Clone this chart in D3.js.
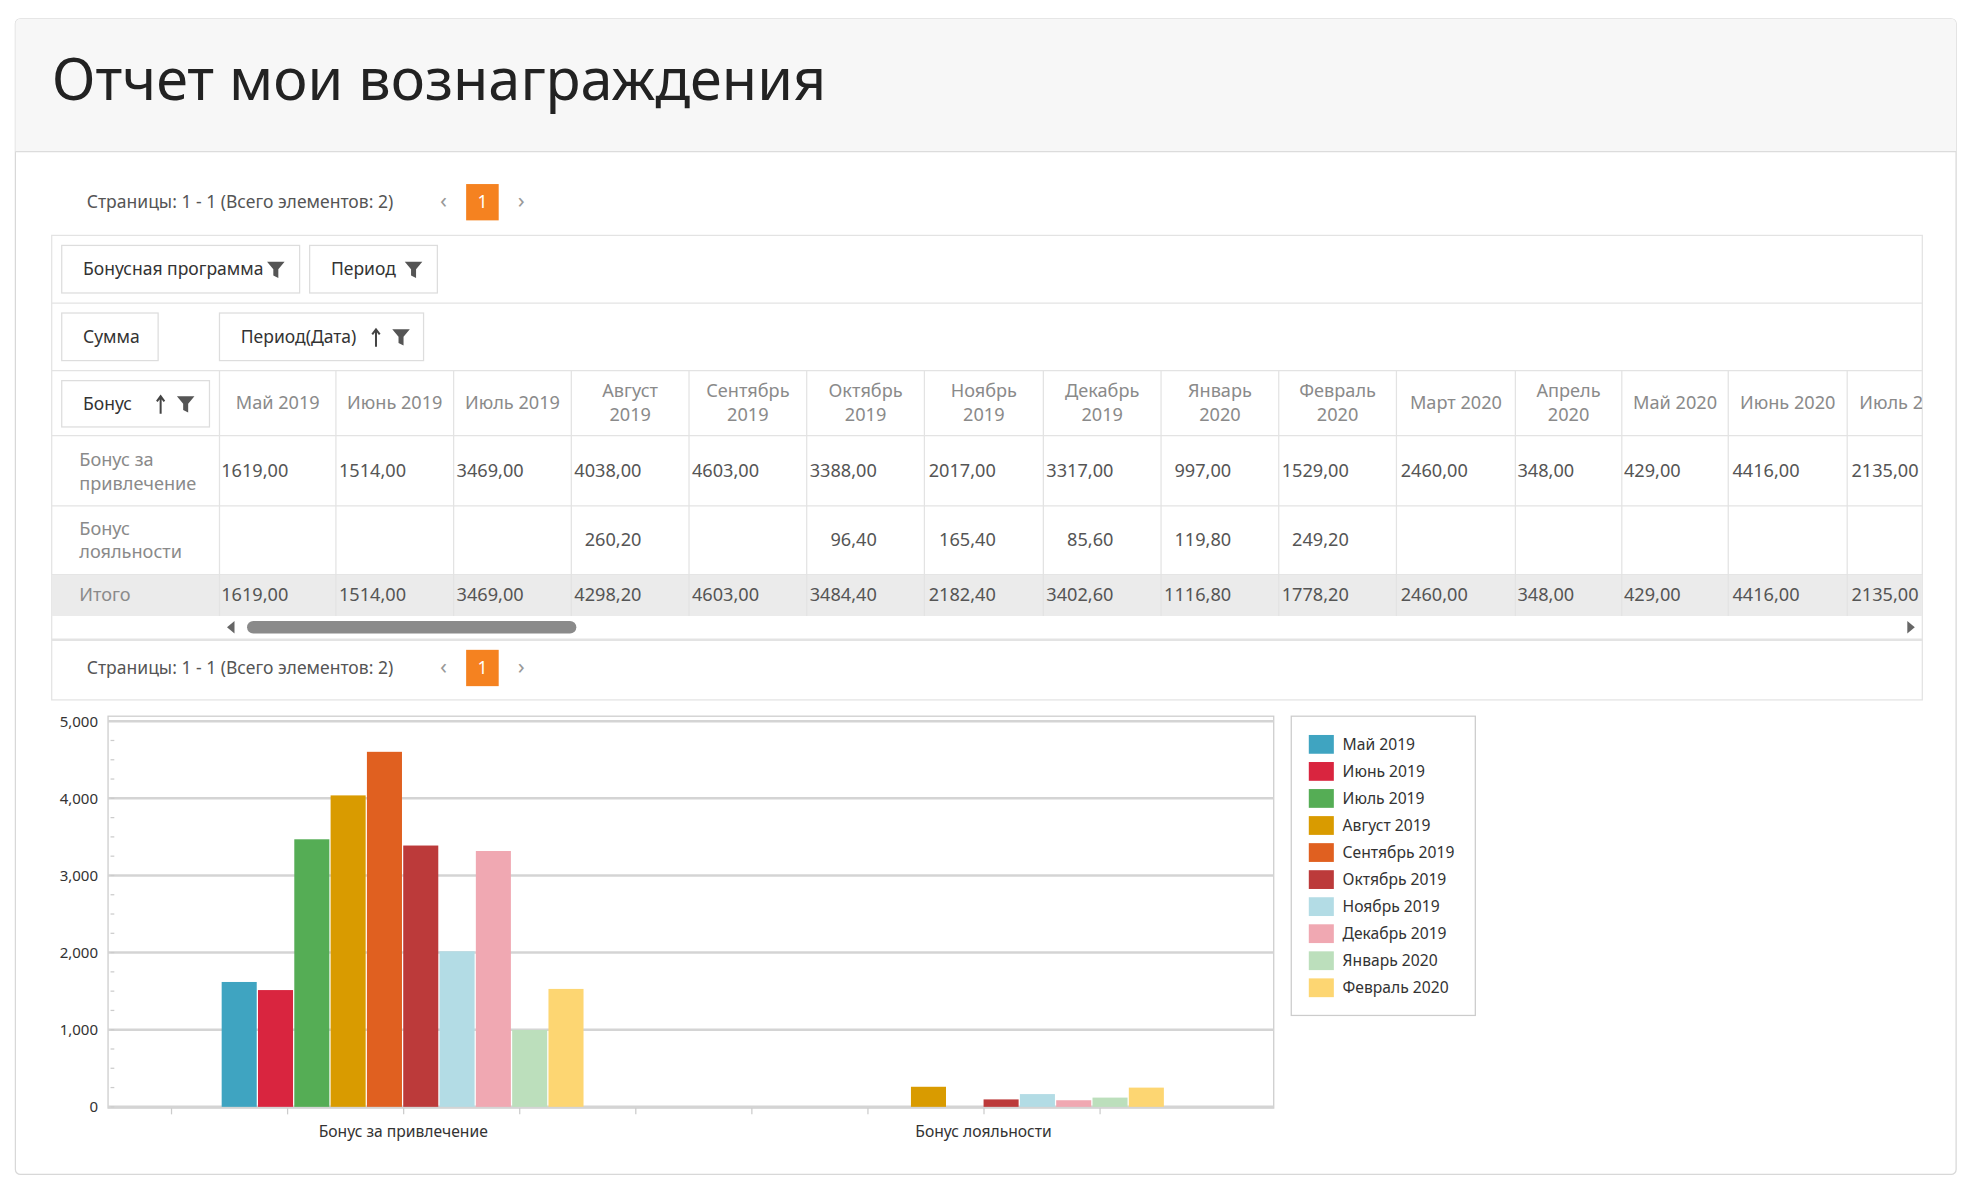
<!DOCTYPE html>
<html><head><meta charset="utf-8">
<script src="https://cdn.jsdelivr.net/npm/d3@7"></script>
<style>
body{margin:0;background:#fff;}
svg text{font-family:"Noto Sans",sans-serif;}
</style></head>
<body><svg id="page"></svg>
<script>
// data
var months = ["Май 2019","Июнь 2019","Июль 2019","Август 2019","Сентябрь 2019","Октябрь 2019","Ноябрь 2019","Декабрь 2019","Январь 2020","Февраль 2020","Март 2020","Апрель 2020","Май 2020","Июнь 2020","Июль 2020"];
var bonuses = ["Бонус за привлечение","Бонус лояльности"];
var attractVals = [1619,1514,3469,4038,4603,3388,2017,3317,997,1529,2460,348,429,4416,2135];
var loyaltyVals = [null,null,null,260.2,null,96.4,165.4,85.6,119.8,249.2,null,null,null,null,null];
var totalVals = [1619,1514,3469,4298.2,4603,3484.4,2182.4,3402.6,1116.8,1778.2,2460,348,429,4416,2135];
var chartMonths = months.slice(0,10);
var colors = ["#3fa4c1","#d9253f","#55ad55","#d99b00","#e06020","#bc3a3a","#b3dce5","#f0a8b2","#bcdfbc","#fdd672"];
var yTicks = [0,1000,2000,3000,4000,5000];

var W = 1568, H = 960;
var svg = d3.select("#page").attr("width",1964).attr("height",1202)
  .attr("viewBox","0 0 "+W+" "+H);

var fmt = function(v){ return v==null ? "" : v.toFixed(2).replace(".",","); };

// card
svg.append("rect").attr("x",12).attr("y",15).attr("width",1550).attr("height",923)
  .attr("rx",4).attr("fill","#fff").attr("stroke","#d8d8d8");
svg.append("path").attr("d","M12,121 V19 a4,4 0 0 1 4,-4 H1558 a4,4 0 0 1 4,4 V121 Z").attr("fill","#f7f7f7");
svg.append("line").attr("x1",12).attr("x2",1562).attr("y1",121).attr("y2",121).attr("stroke","#dcdcdc");
svg.append("text").attr("x",41).attr("y",80).attr("font-size",46).attr("fill","#222").text("Отчет мои вознаграждения");

function pager(y){
  svg.append("text").attr("x",69).attr("y",y+5).attr("font-size",14).attr("fill","#555")
    .text("Страницы: 1 - 1 (Всего элементов: 2)");
  svg.append("text").attr("x",354).attr("y",y+5).attr("font-size",18).attr("fill","#999").attr("text-anchor","middle").text("‹");
  svg.append("rect").attr("x",372).attr("y",y-14).attr("width",26).attr("height",29).attr("fill","#f58220");
  svg.append("text").attr("x",385).attr("y",y+5).attr("font-size",14).attr("fill","#fff").attr("text-anchor","middle").text("1");
  svg.append("text").attr("x",416).attr("y",y+5).attr("font-size",18).attr("fill","#999").attr("text-anchor","middle").text("›");
}
pager(161);

// table frame
var line = "#e3e3e3";
svg.append("rect").attr("x",41).attr("y",188).attr("width",1494).attr("height",371).attr("fill","none").attr("stroke",line);
[242,296,348,404,459,511].forEach(function(y){
  svg.append("line").attr("x1",41).attr("x2",1535).attr("y1",y).attr("y2",y).attr("stroke",line).attr("stroke-width",y==511?2:1);
});

function filterIcon(x,y){
  svg.append("path").attr("d","M"+(x-7)+","+(y-6)+" h14 l-5,6 v7 l-4,-2 v-5 Z").attr("fill","#555");
}
function arrowUp(x,y){
  svg.append("path").attr("d","M"+x+","+(y+8)+" V"+(y-5)+" M"+(x-3)+","+(y-2)+" L"+x+","+(y-6)+" L"+(x+3)+","+(y-2)).attr("stroke","#444").attr("stroke-width",1.6).attr("fill","none");
}
function chip(x,y,w,h,label,sort,filt){
  svg.append("rect").attr("x",x).attr("y",y).attr("width",w).attr("height",h).attr("fill","#fff").attr("stroke","#ddd");
  svg.append("text").attr("x",x+17).attr("y",y+h/2+5).attr("font-size",14).attr("fill","#333").text(label);
  if(sort) arrowUp(sort,y+h/2);
  if(filt) filterIcon(filt,y+h/2);
}
chip(49,196,190,38,"Бонусная программа",null,220);
chip(247,196,102,38,"Период",null,330);
chip(49,250,77,38,"Сумма");
chip(175,250,163,38,"Период(Дата)",300,320);
chip(49,304,118,37,"Бонус",128,148);

// columns
var colEdges = [175,268,362,456,550,644,738,833,927,1021,1115,1210,1295,1380,1475,1570];
svg.append("rect").attr("x",41).attr("y",459).attr("width",1494).attr("height",33).attr("fill","#ebebeb");
var tbl = svg.append("g").attr("clip-path","url(#tclip)");
svg.append("clipPath").attr("id","tclip").append("rect").attr("x",41).attr("y",296).attr("width",1494).attr("height",200);
colEdges.forEach(function(x){
  tbl.append("line").attr("x1",x).attr("x2",x).attr("y1",296).attr("y2",492).attr("stroke",line);
});
months.forEach(function(m,i){
  var cx = (colEdges[i]+colEdges[i+1])/2, w = colEdges[i+1]-colEdges[i];
  var parts = m.split(" ");
  var oneLine = m.length*8.3 < w-8;
  var t = tbl.append("text").attr("font-size",14.5).attr("fill","#8a8a8a").attr("text-anchor","middle");
  if(oneLine || i==14) t.attr("x",cx).attr("y",327).text(m);
  else { t.append("tspan").attr("x",cx).attr("y",317).text(parts[0]); t.append("tspan").attr("x",cx).attr("y",336).text(parts[1]); }
  [[attractVals,381],[loyaltyVals,436],[totalVals,480]].forEach(function(r){
    tbl.append("text").attr("x",colEdges[i+1]-38).attr("y",r[1]).attr("font-size",14.5).attr("fill","#555")
      .attr("text-anchor","end").text(fmt(r[0][i]));
  });
});
[["Бонус за","привлечение",372],["Бонус","лояльности",427]].forEach(function(r){
  var t = svg.append("text").attr("font-size",14.5).attr("fill","#8a8a8a");
  t.append("tspan").attr("x",63).attr("y",r[2]).text(r[0]);
  t.append("tspan").attr("x",63).attr("y",r[2]+19).text(r[1]);
});
svg.append("text").attr("x",63).attr("y",480).attr("font-size",14.5).attr("fill","#8a8a8a").text("Итого");
// scrollbar
svg.append("rect").attr("x",197).attr("y",496).attr("width",263).attr("height",10).attr("rx",5).attr("fill","#8a8a8a");
svg.append("path").attr("d","M181,501 l6,-5 v10 Z").attr("fill","#666");
svg.append("path").attr("d","M1529,501 l-6,-5 v10 Z").attr("fill","#666");

pager(533);

// chart
var x0 = d3.scaleBand().domain(bonuses).range([90,1017]);
var x1 = d3.scaleBand().domain(chartMonths).range([0,290]);
var y = d3.scaleLinear().domain([0,5000]).range([884,576]);

svg.append("rect").attr("x",86).attr("y",572).attr("width",931).attr("height",313).attr("fill","none").attr("stroke","#ccc");
yTicks.forEach(function(t){
  svg.append("line").attr("x1",86).attr("x2",1017).attr("y1",y(t)).attr("y2",y(t)).attr("stroke","#d4d4d4").attr("stroke-width",2);
});
d3.range(0,5000,250).forEach(function(t){
  svg.append("line").attr("x1",88).attr("x2",91).attr("y1",y(t)).attr("y2",y(t)).attr("stroke","#ccc");
});
svg.append("g").attr("transform","translate(86,0)")
  .call(d3.axisLeft(y).tickValues(yTicks).tickSize(0).tickPadding(8))
  .call(function(g){ g.select(".domain").remove(); g.selectAll("text").attr("font-size",12).attr("fill","#333"); });
d3.range(1,10).forEach(function(i){
  var xx = 90 + i*927/10 - 46;
  svg.append("line").attr("x1",xx).attr("x2",xx).attr("y1",885).attr("y2",890).attr("stroke","#ccc");
});
var rows = [attractVals, loyaltyVals];
bonuses.forEach(function(b,bi){
  var gx = x0(b) + x0.bandwidth()/2 - 145;
  svg.append("g").selectAll("rect").data(chartMonths.map(function(m,i){ return {m:m,v:rows[bi][i],i:i}; }).filter(function(d){return d.v!=null;}))
    .enter().append("rect")
      .attr("x",function(d){ return gx + x1(d.m); })
      .attr("width",x1.bandwidth()-1)
      .attr("y",function(d){ return y(d.v); })
      .attr("height",function(d){ return y(0)-y(d.v); })
      .attr("fill",function(d){ return colors[d.i]; });
  svg.append("text").attr("x",x0(b)+x0.bandwidth()/2).attr("y",908).attr("font-size",12.5).attr("fill","#333")
    .attr("text-anchor","middle").text(b);
});

// legend
svg.append("rect").attr("x",1031).attr("y",572).attr("width",147).attr("height",239).attr("fill","#fff").attr("stroke","#ccc");
var lg = svg.append("g").selectAll("g").data(chartMonths).enter().append("g")
  .attr("transform",function(d,i){ return "translate(1045,"+(587+i*21.6)+")"; });
lg.append("rect").attr("width",20).attr("height",15).attr("fill",function(d,i){ return colors[i]; });
lg.append("text").attr("x",27).attr("y",12).attr("font-size",12.5).attr("fill","#333").text(function(d){return d;});
</script></body></html>
